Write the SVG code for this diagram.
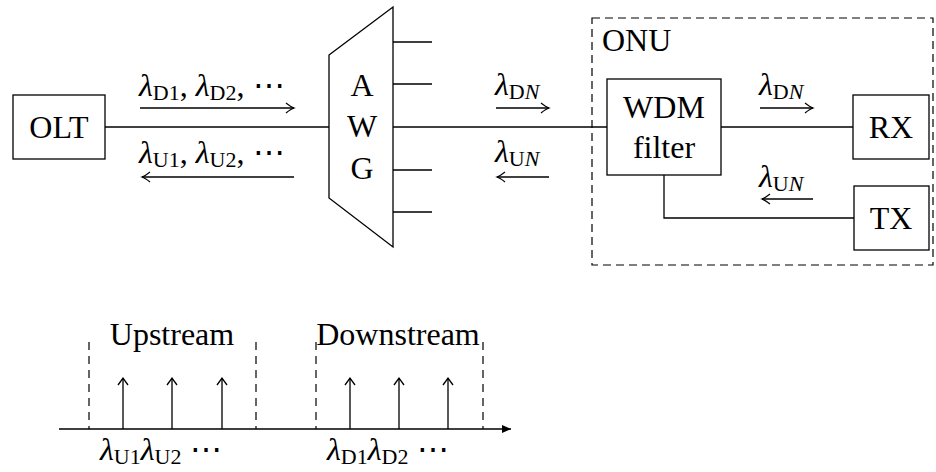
<svg xmlns="http://www.w3.org/2000/svg" width="936" height="472" viewBox="0 0 936 472">
<style>
.ln{fill:none;stroke:#000;stroke-width:1.3}
.bx{fill:#fff;stroke:#000;stroke-width:1.3}
.ds{fill:none;stroke:#000;stroke-width:1.2;stroke-dasharray:8 5}
.t{font-family:"Liberation Serif","Times New Roman",serif;font-size:32px;fill:#000}
.l{font-style:italic}
.s{font-size:22px}
.ar{fill:none;stroke:#000;stroke-width:1.3}
</style>
<defs>
<marker id="ah" viewBox="-10 -6 12 12" markerWidth="12" markerHeight="12" refX="0" refY="0" orient="auto" markerUnits="userSpaceOnUse">
<path d="M-8,-5 Q-3,-1 0,0 Q-3,1 -8,5" fill="none" stroke="#000" stroke-width="1.2"/>
</marker>
<marker id="fh" viewBox="-10 -6 12 12" markerWidth="12" markerHeight="12" refX="0" refY="0" orient="auto" markerUnits="userSpaceOnUse">
<path d="M-9,-4 L0,0 L-9,4 Z" fill="#000"/>
</marker>
</defs>

<g id="connectors">
<path class="ln" d="M105,127 H329"/>
<path class="ln" d="M393,127 H607"/>
<path class="ln" d="M721,127 H853"/>
<path class="ln" d="M854,218 H664 V175"/>
<path class="ln" d="M393,42 H432 M393,84 H432 M393,170 H432 M393,212 H432"/>
<path class="ar" d="M140,108 H294" marker-end="url(#ah)"/>
<path class="ar" d="M294,177 H142" marker-end="url(#ah)"/>
<path class="ar" d="M496,108 H549" marker-end="url(#ah)"/>
<path class="ar" d="M549,177 H497" marker-end="url(#ah)"/>
<path class="ar" d="M760,108 H813" marker-end="url(#ah)"/>
<path class="ar" d="M813,199 H762" marker-end="url(#ah)"/>
</g>

<g id="olt">
<rect class="bx" x="13" y="95" width="92" height="64"/>
<text class="t" x="59" y="138" text-anchor="middle">OLT</text>
</g>

<g id="awg">
<path class="bx" d="M329,55 L393,7 L393,247 L329,198 Z"/>
<text class="t" x="362" y="96" text-anchor="middle">A</text>
<text class="t" x="362" y="137" text-anchor="middle">W</text>
<text class="t" x="362" y="179" text-anchor="middle">G</text>
</g>

<g id="onu">
<rect class="ds" x="592" y="18" width="341" height="247"/>
<text class="t" x="602" y="51">ONU</text>
</g>

<g id="wdm">
<rect class="bx" x="607" y="79" width="114" height="96"/>
<text class="t" x="664" y="118" text-anchor="middle">WDM</text>
<text class="t" x="664" y="158" text-anchor="middle">filter</text>
</g>

<g id="rx">
<rect class="bx" x="853" y="95" width="76" height="64"/>
<text class="t" x="891" y="138" text-anchor="middle">RX</text>
</g>

<g id="tx">
<rect class="bx" x="854" y="186" width="75" height="64"/>
<text class="t" x="891" y="229" text-anchor="middle">TX</text>
</g>

<g id="labels">
<text class="t" x="139" y="96"><tspan class="l">λ</tspan><tspan class="s" dy="4">D1</tspan><tspan dy="-4">, </tspan><tspan class="l">λ</tspan><tspan class="s" dy="4">D2</tspan><tspan dy="-4">, ⋯</tspan></text>
<text class="t" x="139" y="163"><tspan class="l">λ</tspan><tspan class="s" dy="4">U1</tspan><tspan dy="-4">, </tspan><tspan class="l">λ</tspan><tspan class="s" dy="4">U2</tspan><tspan dy="-4">, ⋯</tspan></text>
<text class="t" x="495" y="95"><tspan class="l">λ</tspan><tspan class="s" dy="4">D</tspan><tspan class="s l">N</tspan></text>
<text class="t" x="495" y="162"><tspan class="l">λ</tspan><tspan class="s" dy="4">U</tspan><tspan class="s l">N</tspan></text>
<text class="t" x="759" y="95"><tspan class="l">λ</tspan><tspan class="s" dy="4">D</tspan><tspan class="s l">N</tspan></text>
<text class="t" x="759" y="187"><tspan class="l">λ</tspan><tspan class="s" dy="4">U</tspan><tspan class="s l">N</tspan></text>
</g>

<g id="spectrum">
<path class="ln" d="M59,429 H511" marker-end="url(#fh)"/>
<path class="ds" d="M89,342 V429 M256,342 V429 M316,342 V429 M483,342 V429" style="stroke-dasharray:8 6"/>
<path class="ar" d="M123,429 V378 M172,429 V378 M222,429 V378 M350,429 V378 M399,429 V378 M448,429 V378"/>
<path class="ar" d="M118,385 L123,378 L128,385 M167,385 L172,378 L177,385 M217,385 L222,378 L227,385 M345,385 L350,378 L355,385 M394,385 L399,378 L404,385 M443,385 L448,378 L453,385"/>
<text class="t" x="172" y="345" text-anchor="middle">Upstream</text>
<text class="t" x="398" y="345" text-anchor="middle">Downstream</text>
<text class="t" x="100" y="460"><tspan class="l">λ</tspan><tspan class="s" dy="4">U1</tspan><tspan class="l" dy="-4">λ</tspan><tspan class="s" dy="4">U2</tspan><tspan dy="-4"> ⋯</tspan></text>
<text class="t" x="327" y="460"><tspan class="l">λ</tspan><tspan class="s" dy="4">D1</tspan><tspan class="l" dy="-4">λ</tspan><tspan class="s" dy="4">D2</tspan><tspan dy="-4"> ⋯</tspan></text>
</g>
</svg>
